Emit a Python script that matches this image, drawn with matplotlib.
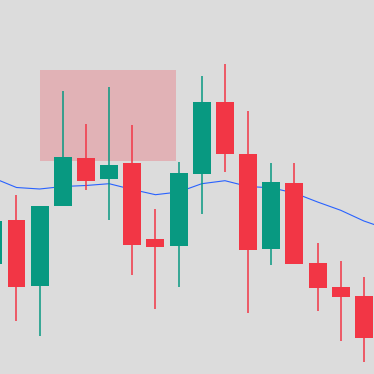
import numpy as np
import matplotlib
matplotlib.use("Agg")
import matplotlib.pyplot as plt
from matplotlib.patches import Rectangle

# candle data (arbitrary price units)
opens  = [110.5, 154.0, 88.3, 168.3, 216.0, 195.3, 211.0, 135.0, 128.3,
          200.3, 272.0, 220.0, 125.3, 191.0, 111.0, 87.0, 78.0]
highs  = [158.0, 179.0, 168.0, 283.0, 250.0, 287.0, 249.0, 165.0, 212.0,
          298.0, 310.0, 263.0, 211.0, 211.0, 131.0, 113.0, 97.0]
lows   = [104.0, 53.3, 38.3, 168.3, 184.3, 154.0, 99.3, 65.3, 87.3,
          160.3, 202.3, 61.3, 109.3, 110.3, 63.3, 33.3, 12.3]
closes = [153.0, 87.3, 168.0, 217.0, 193.3, 209.0, 129.3, 127.3, 201.0,
          272.0, 220.3, 124.3, 192.0, 110.3, 86.3, 77.3, 36.3]

# moving average (one value per bar, plus the next bar off-screen)
ma = [196.0, 186.5, 185.0, 187.5, 188.5, 190.3, 184.5, 179.3, 182.0,
      190.3, 193.3, 187.5, 186.2, 181.0, 172.0, 163.7, 153.0, 145.0]

# highlighted zone
zone_left, zone_right = 2.015, 7.9
zone_bottom, zone_top = 213.3, 304.0

up_col = "#089981"
down_col = "#f23645"
bg = "#dcdcdc"

x = np.arange(len(opens))
o = np.array(opens)
c = np.array(closes)
colors = [up_col if cc >= oo else down_col for oo, cc in zip(o, c)]

fig = plt.figure(figsize=(3.74, 3.74), dpi=100, facecolor=bg)
ax = fig.add_axes([0, 0, 1, 1])
ax.set_facecolor(bg)

ax.add_patch(Rectangle((zone_left, zone_bottom), zone_right - zone_left,
                       zone_top - zone_bottom, facecolor=down_col,
                       alpha=0.25, linewidth=0, zorder=1))

ax.plot(np.arange(len(ma)), ma, color="#2962ff", linewidth=0.8, zorder=2)

ax.vlines(x, lows, highs, colors=colors, linewidth=1.1, zorder=3)
ax.bar(x, np.abs(c - o), bottom=np.minimum(o, c), width=0.777,
       color=colors, linewidth=0, zorder=4)

ax.set_xlim(0.2876, 16.436)
ax.set_ylim(0, 374)
ax.axis("off")

fig.savefig("out.png", dpi=100, facecolor=bg)
